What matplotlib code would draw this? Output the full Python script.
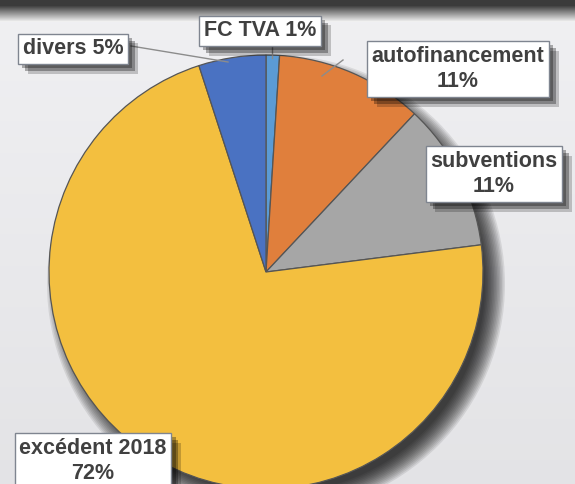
import numpy as np
import matplotlib
matplotlib.use("Agg")
import matplotlib.pyplot as plt
import matplotlib.patheffects as pe
from matplotlib.patches import Circle, Rectangle

# ---- data ----
categories = ["FC TVA", "autofinancement", "subventions", "excédent 2018", "divers"]
values = [1, 11, 11, 72, 5]
pct_labels = ["1%", "11%", "11%", "72%", "5%"]
colors = ["#5b9bd5", "#e07f3c", "#a6a6a6", "#f3bf3f", "#4a72c2"]

W, H = 575, 484
fig = plt.figure(figsize=(W / 100, H / 100), dpi=100, facecolor="#e4e5e7")
ax = fig.add_axes([0, 0, 1, 1])
ax.patch.set_alpha(0)

# background: vertical light gradient + dark band at top (drawn as strips)
n = 60
for i in range(n):
    y0 = H * i / n
    g = 0.89 + 0.05 * (i / n)          # lighter toward the top
    ax.add_patch(Rectangle((0, y0), W, H / n + 1, facecolor=(g, g, g + 0.01),
                           edgecolor="none", zorder=0))
for k in range(22):
    t = np.clip((k - 5) / 16.0, 0, 1)
    g = 0.23 * (1 - t) + 0.94 * t
    ax.add_patch(Rectangle((0, H - k - 1), W, 1.05, facecolor=(g, g, g),
                           edgecolor="none", zorder=0.5))

cx, cy, R = 266, H - 272, 217

# soft drop shadow of the pie: stacked translucent discs
for r in np.linspace(R + 12, R - 8, 14):
    ax.add_patch(Circle((cx + 10, cy - 12), r, facecolor="black", edgecolor="none",
                        alpha=0.085, zorder=1))

wedges, _ = ax.pie(values, colors=colors, startangle=90, counterclock=False,
                   center=(cx, cy), radius=R, frame=True,
                   wedgeprops=dict(edgecolor="#555555", linewidth=0.9))
for w in wedges:
    w.set_zorder(2)
ax.set_xlim(0, W)
ax.set_ylim(0, H)
ax.set_aspect("equal")
ax.axis("off")

# labels: text centre in pixel coords (y from top)
label_pos = {
    "divers": (73, 49),
    "FC TVA": (260, 31),
    "autofinancement": (458, 69),
    "subventions": (494, 174),
    "excédent 2018": (93, 461),
}
leaders = {
    "divers": [(131, 46), (228, 62)],
    "FC TVA": [(272, 43), (272, 58)],
    "autofinancement": [(343, 60), (322, 76)],
}

font = dict(family=["Liberation Sans", "DejaVu Sans"], weight="bold",
            size=15.5, color="#404040")
for cat, pct in zip(categories, pct_labels):
    if cat in ("divers", "FC TVA"):
        txt = f"{cat} {pct}"
    else:
        txt = f"{cat}\n{pct}"
    x, y = label_pos[cat]
    t = ax.text(x, H - y, txt, ha="center", va="center", linespacing=1.3,
                zorder=6, **font,
                bbox=dict(boxstyle="square,pad=0.22", fc="white", ec="#7f8590", lw=1.0))
    t.get_bbox_patch().set_path_effects([
        pe.SimplePatchShadow(offset=(7, -7), shadow_rgbFace="black", alpha=0.2),
        pe.SimplePatchShadow(offset=(5, -5), shadow_rgbFace="black", alpha=0.3),
        pe.SimplePatchShadow(offset=(3, -3), shadow_rgbFace="black", alpha=0.3),
        pe.Normal()])
    if cat in leaders:
        (x0, y0), (x1, y1) = leaders[cat]
        ax.plot([x0, x1], [H - y0, H - y1], color="#8c8c8c", lw=1.0, zorder=5)

fig.savefig("out.png", dpi=100, facecolor=fig.get_facecolor())
